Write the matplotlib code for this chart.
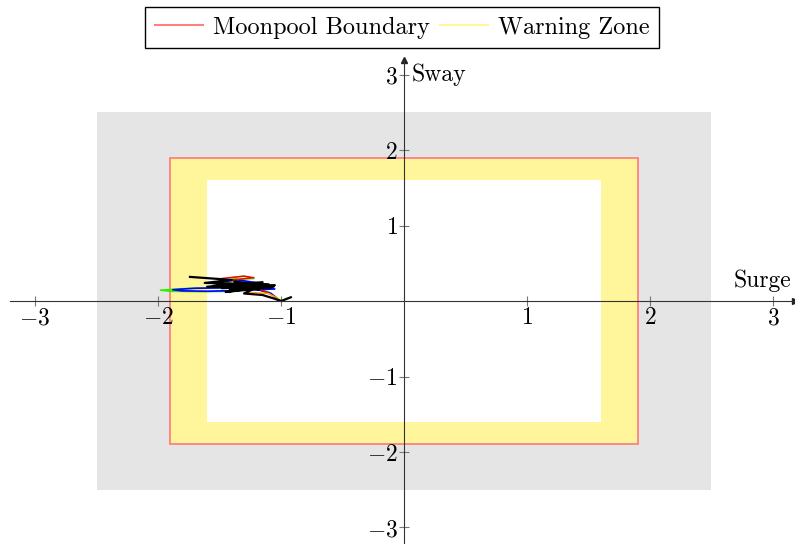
import numpy as np
import matplotlib
matplotlib.use('Agg')
import matplotlib.pyplot as plt
from matplotlib.patches import Rectangle
from matplotlib.lines import Line2D

plt.rcParams['font.family'] = 'serif'
plt.rcParams['font.serif'] = ['cmr10']
plt.rcParams['mathtext.fontset'] = 'cm'
plt.rcParams['axes.unicode_minus'] = False

# zone half-widths
outer_lim = 2.5
boundary = 1.9
warning = 1.6

# vessel trajectories (surge, sway)
black_x = [-1.74, -1.40, -1.62, -1.10, -1.55, -1.05, -1.48, -1.15, -1.60, -1.08, -1.42, -1.12,
           -1.52, -1.18, -1.38, -1.06, -1.45, -1.20, -1.30, -1.15, -1.05, -1.00, -0.92]
black_y = [0.32, 0.28, 0.24, 0.22, 0.20, 0.21, 0.17, 0.25, 0.19, 0.18, 0.14, 0.20,
           0.22, 0.15, 0.26, 0.19, 0.12, 0.18, 0.10, 0.08, 0.03, 0.00, 0.05]
blue_x = [-1.20, -1.45, -1.70, -1.88, -1.80, -1.60, -1.35, -1.05, -1.40, -1.50, -1.35, -1.10,
          -1.25, -1.08, -1.02]
blue_y = [0.17, 0.175, 0.17, 0.15, 0.135, 0.13, 0.14, 0.16, 0.20, 0.25, 0.28, 0.22,
          0.18, 0.10, 0.02]
green_x = [-1.25, -1.50, -1.78, -1.98, -1.90, -1.65, -1.35, -1.20, -1.40, -1.30, -1.22, -1.50,
           -1.10, -1.03, -0.99, -0.94]
green_y = [0.165, 0.175, 0.165, 0.145, 0.13, 0.125, 0.13, 0.20, 0.31, 0.33, 0.30, 0.27,
           0.12, 0.03, 0.00, 0.04]
red_x = [-1.48, -1.30, -1.22, -1.40, -1.15, -1.05]
red_y = [0.30, 0.33, 0.31, 0.28, 0.14, 0.06]
orange_x = [-1.30, -1.10, -1.02]
orange_y = [0.12, 0.10, 0.03]
ticks = [-3, -2, -1, 1, 2, 3]

red = '#FF8080'
yellow = '#FFF59A'
gray = '#E5E5E5'

fig = plt.figure(figsize=(7.95, 5.44), dpi=100)
ax = fig.add_axes([0.0131, 0.0026, 0.987, 0.888])
ax.set_xlim(-3.2, 3.18)
ax.set_ylim(-3.2, 3.2)

ax.add_patch(Rectangle((-outer_lim, -outer_lim), 2*outer_lim, 2*outer_lim, facecolor=gray, edgecolor='none', zorder=0))
ax.add_patch(Rectangle((-boundary, -boundary), 2*boundary, 2*boundary, facecolor=yellow, edgecolor=red, lw=1.3, zorder=1))
ax.add_patch(Rectangle((-warning, -warning), 2*warning, 2*warning, facecolor='white', edgecolor='none', zorder=1))

ax.plot(green_x, green_y, color='#33EE00', lw=1.2, zorder=3)
ax.plot(blue_x, blue_y, color='blue', lw=1.2, zorder=3)
ax.plot(red_x, red_y, color='red', lw=1.0, zorder=3)
ax.plot(orange_x, orange_y, color='orange', lw=1.0, zorder=3)
ax.plot(black_x, black_y, color='black', lw=1.6, zorder=4)

for s in ['top', 'right']:
    ax.spines[s].set_visible(False)
ax.spines['left'].set_position(('data', 0))
ax.spines['bottom'].set_position(('data', 0))
for s in ['left', 'bottom']:
    ax.spines[s].set_color('#333333')
    ax.spines[s].set_zorder(5)
ax.plot(1, 0, '>', color='#222222', ms=5, transform=ax.get_yaxis_transform(), clip_on=False)
ax.plot(0, 1, '^', color='#222222', ms=5, transform=ax.get_xaxis_transform(), clip_on=False)

ax.set_xticks(ticks)
ax.set_yticks(ticks)
ax.set_xticklabels([f'${t}$' for t in ticks], fontsize=17)
ax.set_yticklabels([f'${t}$' for t in ticks], fontsize=17)
ax.tick_params(direction='inout', length=7, color='#777777', width=0.8)
ax.tick_params(axis='x', pad=1)
ax.tick_params(axis='y', pad=1)

ax.text(3.15, 0.12, 'Surge', fontsize=17, ha='right', va='bottom')
ax.text(0.06, 3.0, 'Sway', fontsize=17, ha='left', va='center')

handles = [Line2D([], [], color=red, lw=1.5), Line2D([], [], color=yellow, lw=1.5)]
fig.legend(handles, ['Moonpool Boundary', 'Warning Zone'], loc='upper center',
           bbox_to_anchor=(0.506, 1.01), ncol=2, fontsize=17.5, frameon=True,
           fancybox=False, edgecolor='black', framealpha=1,
           handlelength=2.0, handletextpad=0.4, columnspacing=0.4, borderpad=0.4)

fig.savefig('out.png', dpi=100)
